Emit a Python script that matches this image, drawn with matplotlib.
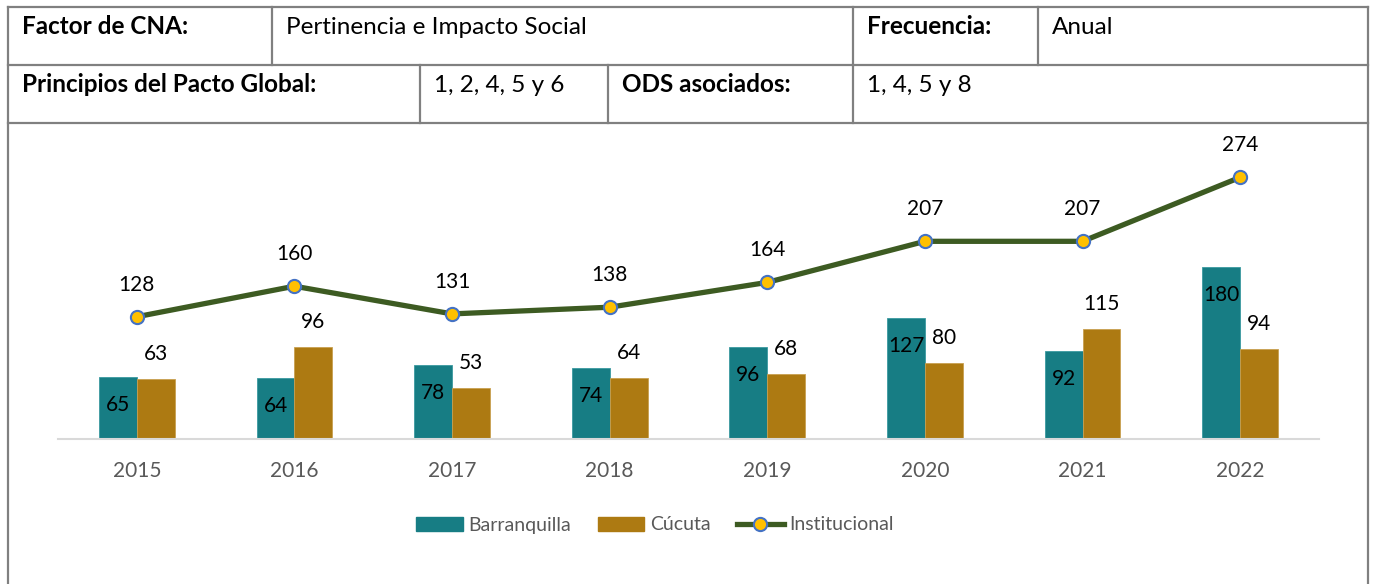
import matplotlib
matplotlib.use("Agg")
import matplotlib.pyplot as plt
from matplotlib.lines import Line2D
from matplotlib.patches import Patch
import numpy as np

plt.rcParams['font.family'] = ['Lato', 'DejaVu Sans']

years = ["2015", "2016", "2017", "2018", "2019", "2020", "2021", "2022"]
barranquilla = [65, 64, 78, 74, 96, 127, 92, 180]
cucuta = [63, 96, 53, 64, 68, 80, 115, 94]
institucional = [128, 160, 131, 138, 164, 207, 207, 274]
series_names = ["Barranquilla", "Cúcuta", "Institucional"]

header_row1 = [("Factor de CNA:", True), ("Pertinencia e Impacto Social", False),
               ("Frecuencia:", True), ("Anual", False)]
header_row2 = [("Principios del Pacto Global:", True), ("1, 2, 4, 5 y 6", False),
               ("ODS asociados:", True), ("1, 4, 5 y 8", False)]

W, H = 1373, 584
fig = plt.figure(figsize=(W / 100, H / 100), dpi=100)

def fx(x):
    return x / W

def fy(y):
    return 1 - y / H

# ---- table grid ----
grid_col = "#808080"
lw = 1.6
def hline(y, x0, x1):
    fig.add_artist(Line2D([fx(x0), fx(x1)], [fy(y), fy(y)], color=grid_col, lw=lw))
def vline(x, y0, y1):
    fig.add_artist(Line2D([fx(x), fx(x)], [fy(y0), fy(y1)], color=grid_col, lw=lw))

left, right, top = 8, 1368, 7
row1, row2 = 65, 123
hline(top, left, right)
hline(row1, left, right)
hline(row2, left, right)
vline(left, top, H + 5)
vline(right, top, H + 5)
cols1 = [272, 853, 1038]
cols2 = [420, 608, 853]
for c in cols1:
    vline(c, top, row1)
for c in cols2:
    vline(c, row1, row2)

fs_head = 17.5
starts1 = [left] + cols1
starts2 = [left] + cols2
for (txt, bold), x0 in zip(header_row1, starts1):
    fig.text(fx(x0 + 14), fy(34), txt, fontsize=fs_head,
             fontweight='bold' if bold else 'normal', color='black',
             ha='left', va='baseline')
for (txt, bold), x0 in zip(header_row2, starts2):
    fig.text(fx(x0 + 14), fy(92), txt, fontsize=fs_head,
             fontweight='bold' if bold else 'normal', color='black',
             ha='left', va='baseline')

# ---- chart ----
ax_l, ax_r, ax_b, ax_t = 58, 1319, 439, 139
ax = fig.add_axes([fx(ax_l), fy(ax_b), (ax_r - ax_l) / W, (ax_b - ax_t) / H])

teal = "#177D84"
gold = "#AD7A12"
green = "#3D5B22"
x = np.arange(len(years))
bw = 0.24
ax.bar(x - bw / 2, barranquilla, width=bw, color=teal, edgecolor="#3A9AA0", linewidth=0.6, zorder=2)
ax.bar(x + bw / 2, cucuta, width=bw, color=gold, edgecolor="#C9A050", linewidth=0.6, zorder=2)
ax.plot(x, institucional, color=green, lw=3.8, marker='o', markersize=9.5,
        markerfacecolor="#FFC000", markeredgecolor="#4472C4", markeredgewidth=1.5, zorder=3)

ax.set_xlim(-0.5, len(years) - 0.5)
ax.set_ylim(0, 300 / 0.955)
ax.set_xticks(x)
ax.set_xticklabels(years)
ax.tick_params(axis='x', length=0, pad=16, labelsize=15, labelcolor="#595959")
ax.set_yticks([])
for s in ['top', 'right', 'left']:
    ax.spines[s].set_visible(False)
ax.spines['bottom'].set_color("#D9D9D9")
ax.spines['bottom'].set_linewidth(1.5)
ax.set_facecolor('none')

fs_lab = 15
for xi, v in zip(x, barranquilla):
    ax.annotate(str(v), (xi - bw / 2, v), xytext=(0, -28), textcoords='offset pixels',
                ha='center', va='center', fontsize=fs_lab, color='black', zorder=4)
for xi, v in zip(x, cucuta):
    ax.annotate(str(v), (xi + bw / 2, v), xytext=(0, 25), textcoords='offset pixels',
                ha='center', va='center', fontsize=fs_lab, color='black', zorder=4)
for xi, v in zip(x, institucional):
    ax.annotate(str(v), (xi, v), xytext=(0, 32), textcoords='offset pixels',
                ha='center', va='center', fontsize=fs_lab, color='black', zorder=4)

handles = [Patch(facecolor=teal, edgecolor=teal),
           Patch(facecolor=gold, edgecolor=gold),
           Line2D([0], [0], color=green, lw=3.8, marker='o', markersize=9.5,
                  markerfacecolor="#FFC000", markeredgecolor="#4472C4", markeredgewidth=1.5)]
leg = fig.legend(handles, series_names, loc='center', bbox_to_anchor=(fx(655), fy(525)),
                 ncol=3, frameon=False, fontsize=14, handlelength=2.4, handleheight=0.7,
                 handletextpad=0.3, columnspacing=1.35)
for t in leg.get_texts():
    t.set_color("#595959")

fig.savefig("out.png", dpi=100)
